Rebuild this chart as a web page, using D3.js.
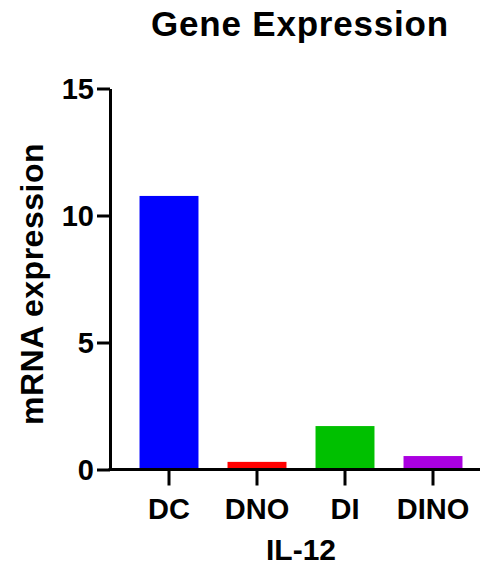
<!DOCTYPE html>
<html><head><meta charset="utf-8">
<script src="https://cdn.jsdelivr.net/npm/d3@7/dist/d3.min.js"></script>
<style>body{margin:0;background:#fff}svg{display:block}text{font-family:"Liberation Sans",Arial,sans-serif;font-weight:bold;fill:#000}</style>
</head><body><svg id="c" width="485" height="567"></svg>
<script>
const categories = ["DC","DNO","DI","DINO"];
const values = [10.77, 0.3, 1.71, 0.53];
const colors = ["#0000FF","#FF0000","#00C000","#AA00E0"];
const yTicks = [0,5,10,15];
const title = "Gene Expression";
const yLabel = "mRNA expression";
const xLabel = "IL-12";

const svg = d3.select("#c");
const axisX0 = 110, axisX1 = 480;
const y = d3.scaleLinear().domain([0,15]).range([469.5, 88.5]);
const x = d3.scaleBand().domain(categories).range([125,477]).paddingInner(0.33).paddingOuter(0.165);

// bars
svg.append("g").selectAll("rect").data(values).join("rect")
  .attr("x",(d,i)=>x(categories[i]))
  .attr("width",x.bandwidth())
  .attr("y",d=>y(d))
  .attr("height",d=>y(0)-y(d))
  .attr("fill",(d,i)=>colors[i]);

// y axis
const ya = svg.append("g").attr("transform",`translate(${axisX0},0)`)
  .call(d3.axisLeft(y).tickValues(yTicks).tickSize(13).tickSizeOuter(0).tickPadding(3));
ya.selectAll("path,line").attr("stroke","#000").attr("stroke-width",3);
ya.selectAll("text").attr("font-size",29).attr("dy","0.36em").style("font-family",'"Liberation Sans",Arial,sans-serif').style("font-weight","bold");

// x axis
const xa = svg.append("g").attr("transform",`translate(0,${y(0)})`)
  .call(d3.axisBottom(x).tickSize(16).tickPadding(13));
xa.select(".domain").remove();
xa.append("line").attr("x1",axisX0-1.5).attr("x2",axisX1).attr("stroke","#000").attr("stroke-width",3);
xa.selectAll("line").attr("stroke","#000").attr("stroke-width",3);
xa.selectAll(".tick text").attr("font-size",29).attr("dy","0.71em").style("font-family",'"Liberation Sans",Arial,sans-serif').style("font-weight","bold");

// titles
svg.append("text").attr("x",300).attr("y",36).attr("text-anchor","middle")
  .attr("font-size",35).style("letter-spacing","0.8px").text(title);
svg.append("text").attr("transform","translate(43,284) rotate(-90)").attr("text-anchor","middle")
  .attr("font-size",32).style("letter-spacing","0.5px").text(yLabel);
svg.append("text").attr("x",301).attr("y",560).attr("text-anchor","middle")
  .attr("font-size",30).text(xLabel);
</script></body></html>
